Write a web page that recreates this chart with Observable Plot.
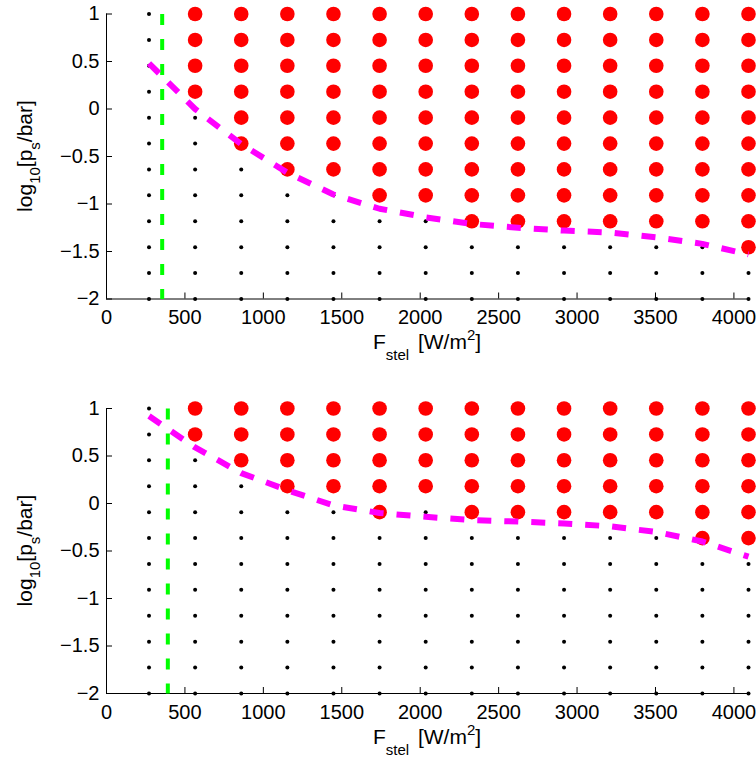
<!DOCTYPE html>
<html>
<head>
<meta charset="utf-8">
<script src="https://cdn.jsdelivr.net/npm/d3@7"></script>
<script src="https://cdn.jsdelivr.net/npm/@observablehq/plot@0.6"></script>
<style>
  body { margin: 0; background: #fff; }
  #chart svg { display: block; }
</style>
</head>
<body>
<div id="chart"></div>
<script>
// Stellar flux grid (W/m^2) and log10 surface pressure grid
const xs = [271, 565, 859, 1153, 1447, 1741, 2035, 2329, 2623, 2917, 3211, 3505, 3799, 4093];
const ys = [1, 0.727, 0.455, 0.182, -0.091, -0.364, -0.636, -0.909, -1.182, -1.455, -1.727, -2];
// number of red (top-most) rows in each column
const redCountTop    = [0, 4, 6, 7, 7, 8, 8, 9, 9, 9, 9, 9, 9, 10];
const redCountBottom = [0, 2, 3, 4, 4, 5, 4, 5, 5, 5, 5, 5, 6, 6];
// magenta boundary curve (log10 p) at each flux column
const boundaryTop    = [0.48, 0.0, -0.37, -0.67, -0.90, -1.05, -1.14, -1.21, -1.25, -1.28, -1.30, -1.35, -1.42, -1.53];
const boundaryBottom = [0.92, 0.59, 0.32, 0.14, -0.02, -0.10, -0.14, -0.175, -0.19, -0.21, -0.24, -0.30, -0.40, -0.56];
// green vertical line flux
const greenTop = 355;
const greenBottom = 391;
const xTicks = [0, 500, 1000, 1500, 2000, 2500, 3000, 3500, 4000];
const yTicks = [-2, -1.5, -1, -0.5, 0, 0.5, 1];

const W = 756, ML = 106, MR = 8, PH = 285;
const FONT = "'Liberation Sans', Arial, Helvetica, sans-serif";
const fmt = d => String(d).replace("-", "\u2212");

function panel({height, marginTop, redCount, boundary, green, xLabelY, yLabelY}) {
  const grid = [];
  xs.forEach((x, i) => ys.forEach((y, j) => grid.push({x, y, red: j < redCount[i]})));
  const svg = Plot.plot({
    width: W, height, marginLeft: ML, marginRight: MR, marginTop,
    marginBottom: height - marginTop - PH,
    style: {fontFamily: FONT, fontSize: "20px", color: "#000", background: "#fff", overflow: "visible"},
    x: {domain: [0, 4093], ticks: xTicks, tickFormat: fmt, tickSize: 0, tickPadding: 11, label: null},
    y: {domain: [-2, 1], ticks: yTicks, tickFormat: fmt, tickSize: 0, tickPadding: 7, label: null},
    marks: [
      Plot.ruleX([0], {stroke: "#000", strokeWidth: 1}),
      Plot.ruleY([-2], {stroke: "#000", strokeWidth: 1}),
      Plot.tickX(xTicks, {x: d => d, insetTop: PH - 6, stroke: "#000"}),
      Plot.tickY(yTicks, {y: d => d, insetRight: (W - ML - MR) - 6, stroke: "#000"}),
      Plot.dot(grid.filter(d => !d.red), {x: "x", y: "y", r: 2, fill: "#000", stroke: null}),
      Plot.dot(grid.filter(d => d.red), {x: "x", y: "y", r: 7.3, fill: "#ff0000", stroke: null}),
      Plot.line([{x: green, y: 1}, {x: green, y: -2}], {x: "x", y: "y", stroke: "#00ff00", strokeWidth: 4, strokeDasharray: "11,14", strokeLinecap: "butt"}),
      Plot.line(xs.map((x, i) => ({x, y: boundary[i]})), {x: "x", y: "y", stroke: "#ff00ff", strokeWidth: 6, strokeDasharray: "14,13", strokeLinecap: "butt"})
    ]
  });
  const s = d3.select(svg);
  // x label: F_stel [W/m^2]
  const xt = s.append("text")
    .attr("x", ML + (W - ML - MR) / 2)
    .attr("y", xLabelY)
    .attr("text-anchor", "middle")
    .attr("font-family", FONT)
    .attr("font-size", 21)
    .attr("fill", "#000");
  xt.append("tspan").text("F");
  xt.append("tspan").attr("font-size", 15).attr("dy", 11).text("stel");
  xt.append("tspan").attr("dy", -11).attr("dx", 3).text(" [W/m");
  xt.append("tspan").attr("font-size", 15).attr("dy", -9).text("2");
  xt.append("tspan").attr("dy", 9).text("]");
  // y label: log10[p_s/bar]
  const yt = s.append("text")
    .attr("transform", `translate(32,${yLabelY}) rotate(-90)`)
    .attr("text-anchor", "middle")
    .attr("font-family", FONT)
    .attr("font-size", 21)
    .attr("fill", "#000");
  yt.append("tspan").text("log");
  yt.append("tspan").attr("font-size", 15).attr("dy", 8).text("10");
  yt.append("tspan").attr("dy", -8).text("[p");
  yt.append("tspan").attr("font-size", 15).attr("dy", 8).text("s");
  yt.append("tspan").attr("dy", -8).text("/bar]");
  return svg;
}

const chart = document.getElementById("chart");
chart.append(panel({height: 380, marginTop: 13.5, redCount: redCountTop, boundary: boundaryTop, green: greenTop, xLabelY: 349, yLabelY: 156}));
chart.append(panel({height: 381, marginTop: 28, redCount: redCountBottom, boundary: boundaryBottom, green: greenBottom, xLabelY: 364, yLabelY: 170.5}));
</script>
</body>
</html>
